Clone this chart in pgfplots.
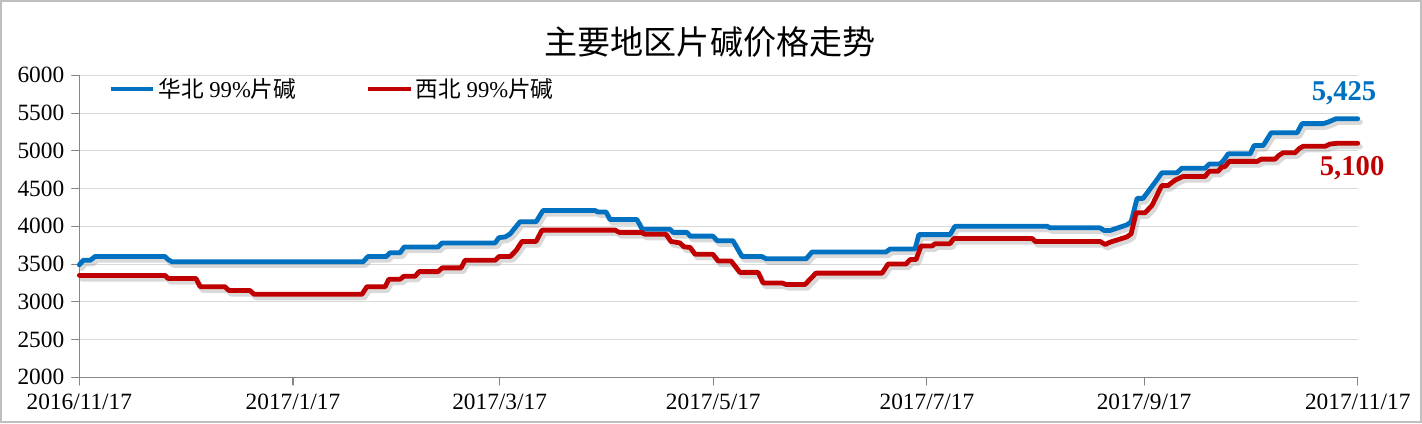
\documentclass[border=0pt]{standalone}
\usepackage{fontspec}
\usepackage{pgfplots}
\usepackage{pgfplotstable}
\pgfplotsset{compat=1.18}
\setmainfont{Liberation Serif}
\newfontfamily\cjk{Noto Sans CJK SC}
\definecolor{hbblue}{HTML}{0070C0}
\definecolor{xbred}{HTML}{C00000}
\definecolor{gridgray}{HTML}{D9D9D9}
\definecolor{axgray}{HTML}{868686}
\definecolor{framegray}{HTML}{BFBFBF}

% days since 2016/11/17, price (yuan/t)
\pgfplotstableread{
day price
0 3490
1.1 3550
3.1 3550
4.5 3600
24.5 3600
25.3 3560
26.5 3530
81.0 3530
82.4 3600
87.6 3600
88.7 3650
91.6 3650
92.7 3725
102.4 3725
103.6 3780
118.7 3780
119.8 3850
121.6 3860
123.0 3900
125.8 4060
130.4 4060
132.4 4210
147.2 4210
148.1 4190
150.4 4190
151.5 4090
159.2 4090
160.7 3960
168.7 3960
169.5 3920
173.5 3920
174.4 3870
180.9 3870
182.1 3810
186.6 3810
189.2 3600
194.9 3600
196.1 3570
207.5 3570
209.2 3660
230.3 3660
231.5 3700
238.6 3700
239.7 3890
248.6 3890
250.0 4000
276.3 4000
277.2 3980
291.4 3980
292.6 3945
294.3 3945
299.1 4020
300.3 4060
302.0 4370
303.7 4370
306.6 4550
309.1 4710
313.4 4710
314.8 4770
321.4 4770
322.6 4825
325.7 4825
326.8 4880
328.0 4960
334.3 4960
335.4 5070
338.0 5070
340.3 5240
347.7 5240
349.1 5360
355.1 5360
356.5 5380
358.8 5425
365 5425
}\huabei

\pgfplotstableread{
day price
0 3350
24.5 3350
25.3 3310
33.3 3310
34.5 3200
41.6 3200
42.7 3150
48.7 3150
49.9 3100
80.7 3100
82.1 3200
87.3 3200
88.4 3300
91.6 3300
92.7 3340
95.9 3340
97.0 3400
102.4 3400
103.6 3450
109.0 3450
110.1 3550
118.7 3550
119.8 3600
123.0 3600
124.7 3680
126.4 3800
130.4 3800
132.1 3950
153.0 3950
154.1 3920
160.4 3920
161.5 3895
167.5 3895
168.9 3800
171.5 3780
172.6 3730
174.4 3720
175.8 3630
180.9 3630
182.4 3540
186.1 3540
188.6 3390
193.8 3390
195.2 3250
200.6 3250
201.8 3230
207.2 3230
210.3 3380
229.2 3380
230.9 3500
236.0 3500
237.2 3560
238.9 3560
240.3 3740
243.5 3740
244.3 3770
248.6 3770
249.7 3840
272.0 3840
272.9 3800
291.4 3800
292.9 3760
294.3 3790
299.1 3860
300.3 3900
301.7 4180
304.3 4180
306.3 4280
308.6 4500
309.1 4540
310.8 4540
312.8 4610
315.1 4660
321.4 4660
322.6 4730
325.1 4730
326.3 4790
327.1 4790
328.3 4860
336.3 4860
337.4 4890
341.4 4890
342.5 4940
343.7 4975
347.1 4975
348.3 5030
349.4 5060
355.7 5060
357.1 5090
359.1 5100
365 5100
}\xibei

\begin{document}
\begin{tikzpicture}
\begin{axis}[
  at={(0,0)}, anchor=south west,
  scale only axis, width=958.8pt, height=226.5pt,
  xmin=0, xmax=365, ymin=2000, ymax=6000,
  axis x line*=bottom, axis y line*=left,
  axis line style={-, axgray, line width=0.8pt},
  tick align=outside, major tick length=5.8pt,
  tick style={axgray, line width=0.8pt},
  ytick={2000,2500,...,6000},
  xtick={0,61,120,181,242,304,365},
  xticklabels={2016/11/17,2017/1/17,2017/3/17,2017/5/17,2017/7/17,2017/9/17,2017/11/17},
  ymajorgrids, major grid style={gridgray, line width=0.8pt},
  /pgf/number format/assume math mode=true,
  /pgf/number format/1000 sep={},
  ticklabel style={font=\fontsize{17.5}{20}\selectfont},
  yticklabel style={xshift=-2pt},
  xticklabel style={yshift=-3pt},
  clip=false,
  legend columns=2,
  legend style={at={(0.0224,0.9546)}, anchor=west, draw=none, fill=none,
    inner sep=0pt, font=\fontsize{17}{20}\selectfont,
    nodes={inner sep=2pt},
    /tikz/every even column/.append style={column sep=50pt}},
  legend image code/.code={\draw[#1] (0pt,0pt) -- (32pt,0pt);},
  line join=round, line cap=round,
]
\addplot[forget plot, gray, opacity=0.3, line width=4pt,
  transform canvas={xshift=1.8pt, yshift=-2.6pt}] table[x=day, y=price] {\huabei};
\addplot[forget plot, gray, opacity=0.3, line width=4pt,
  transform canvas={xshift=1.8pt, yshift=-2.6pt}] table[x=day, y=price] {\xibei};
\addplot[hbblue, line width=3.6pt] table[x=day, y=price] {\huabei};
\addlegendentry{{\cjk 华北} 99\%{\cjk 片碱}}
\addplot[xbred, line width=3.6pt] table[x=day, y=price] {\xibei};
\addlegendentry{{\cjk 西北} 99\%{\cjk 片碱}}
\node[text=hbblue, font=\bfseries\fontsize{21.5}{24}\selectfont] at (axis cs:361.1,5766) {5,425};
\node[text=xbred, font=\bfseries\fontsize{21.5}{24}\selectfont] at (axis cs:363.4,4772) {5,100};
\end{axis}
\node[font=\cjk\fontsize{24.8}{28}\selectfont] at (473pt,251.5pt) {主要地区片碱价格走势};
\path[use as bounding box] (-59.5pt,-34.3pt) rectangle (1007pt,283pt);
\draw[framegray, line width=1.5pt] (-58.75pt,-33.55pt) rectangle (1006.25pt,282.25pt);
\end{tikzpicture}
\end{document}
